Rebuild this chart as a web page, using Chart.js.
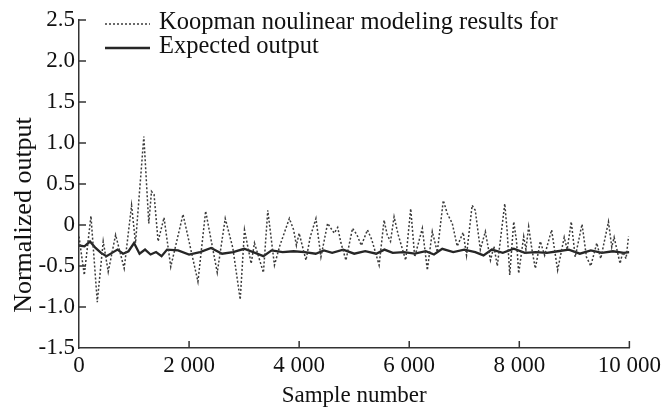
<!DOCTYPE html>
<html lang="en">

<head>
    <meta charset="UTF-8">
    <title>Koopman output</title>
    <script src="https://cdn.jsdelivr.net/npm/chart.js@4.4.0/dist/chart.umd.min.js"></script>
    <style>
        body { margin: 0; background: #fff; }
    </style>
</head>

<body>
    <canvas id="myChart" width="665" height="407"></canvas>

    <script>
        // data
        var koopmanX = [0, 96, 217, 332, 440, 531, 665, 821, 955, 1027, 1178, 1268, 1317, 1364, 1437, 1545, 1667, 1890,
            2161, 2301, 2512, 2657, 2795, 2929, 3007, 3128, 3188, 3351, 3430, 3551, 3650, 3822, 3900, 3950, 4000, 4124,
            4200, 4305, 4396, 4517, 4638, 4700, 4760, 4850, 4970, 5050, 5130, 5241, 5320, 5453, 5543, 5600, 5660, 5725,
            5800, 5936, 6027, 6100, 6238, 6329, 6419, 6510, 6619, 6691, 6782, 6872, 6980, 7041, 7143, 7200, 7292, 7383,
            7476, 7540, 7600, 7736, 7780, 7826, 7899, 7950, 7989, 8080, 8120, 8170, 8230, 8291, 8382, 8460, 8587, 8696,
            8816, 8870, 8944, 9016, 9140, 9220, 9299, 9408, 9480, 9620, 9680, 9723, 9831, 9880, 9940, 9985];
        var koopmanY = [-0.14, -0.61, 0.11, -0.94, -0.20, -0.57, -0.12, -0.53, 0.24, -0.22, 1.08, 0.02, 0.41, 0.37, -0.20, 0.09, -0.51, 0.13,
            -0.69, 0.17, -0.58, 0.08, -0.28, -0.91, -0.06, -0.47, -0.22, -0.58, 0.18, -0.49, -0.25, 0.08, -0.06, -0.25, -0.10, -0.43,
            -0.15, 0.08, -0.39, 0.02, -0.10, -0.03, -0.22, -0.43, -0.04, -0.12, -0.25, -0.06, -0.18, -0.49, 0.06, -0.12, -0.20, 0.10,
            -0.12, -0.43, 0.20, -0.39, -0.04, -0.55, -0.08, -0.33, 0.30, 0.14, 0.02, -0.26, -0.09, -0.37, 0.24, 0.18, -0.30, -0.08,
            -0.43, -0.26, -0.50, 0.26, -0.08, -0.61, 0.04, -0.20, -0.59, -0.14, -0.30, -0.02, -0.30, -0.53, -0.20, -0.37, -0.06, -0.55,
            -0.15, -0.30, 0.04, -0.39, 0.01, -0.39, -0.50, -0.22, -0.41, 0.04, -0.27, -0.15, -0.47, -0.33, -0.41, -0.14];

        var expectedX = [0, 100, 200, 300, 400, 500, 600, 700, 800, 900, 1000, 1100, 1200, 1300, 1400, 1500, 1600, 1800,
            2000, 2200, 2400, 2600, 2800, 3000, 3200, 3350, 3500, 3700, 3900, 4100, 4300, 4450, 4600, 4800, 5000, 5200,
            5400, 5550, 5700, 5900, 6100, 6300, 6450, 6600, 6800, 7000, 7200, 7350, 7500, 7700, 7900, 8100, 8300, 8500,
            8700, 8900, 9100, 9300, 9500, 9700, 9900, 10000];
        var expectedY = [-0.25, -0.26, -0.20, -0.28, -0.34, -0.38, -0.34, -0.30, -0.35, -0.32, -0.22, -0.35, -0.30, -0.36, -0.33, -0.38, -0.30, -0.31,
            -0.36, -0.33, -0.28, -0.35, -0.33, -0.29, -0.34, -0.38, -0.31, -0.33, -0.32, -0.33, -0.35, -0.31, -0.34, -0.30, -0.35, -0.32,
            -0.35, -0.30, -0.34, -0.33, -0.35, -0.32, -0.36, -0.29, -0.33, -0.30, -0.33, -0.37, -0.30, -0.34, -0.29, -0.34, -0.33, -0.34,
            -0.32, -0.30, -0.35, -0.31, -0.34, -0.32, -0.34, -0.33];

        var xTicks = [0, 2000, 4000, 6000, 8000, 10000];
        var yTicks = [-1.5, -1.0, -0.5, 0, 0.5, 1.0, 1.5, 2.0, 2.5];
        var seriesNames = ['Koopman noulinear modeling results for', 'Expected output'];

        var v_font = "'Liberation Serif', 'DejaVu Serif', serif";
        var v_axisColor = '#333';
        var v_textColor = '#111';

        function f_points(p_x, p_y) {
            var v_pts = [];
            for (var i = 0; i < p_x.length; i++) {
                v_pts.push({ x: p_x[i], y: p_y[i] });
            }
            return v_pts;
        }

        // inward tick marks, legend and y title
        var decorPlugin = {
            id: 'decor',
            afterDraw: function (chart) {
                var ctx = chart.ctx;
                var xs = chart.scales.x;
                var ys = chart.scales.y;
                var area = chart.chartArea;
                ctx.save();
                ctx.strokeStyle = v_axisColor;
                ctx.lineWidth = 1.5;
                ctx.beginPath();
                xTicks.forEach(function (v) {
                    if (v === 0) return;
                    var px = xs.getPixelForValue(v);
                    ctx.moveTo(px, area.bottom);
                    ctx.lineTo(px, area.bottom - 7);
                });
                yTicks.forEach(function (v) {
                    if (v === -1.5) return;
                    var py = ys.getPixelForValue(v);
                    ctx.moveTo(area.left, py);
                    ctx.lineTo(area.left + 7, py);
                });
                ctx.stroke();

                // legend
                var sets = chart.data.datasets;
                var rows = [24, 48];
                for (var i = 0; i < sets.length; i++) {
                    ctx.beginPath();
                    ctx.strokeStyle = sets[i].borderColor;
                    ctx.lineWidth = sets[i].borderWidth;
                    ctx.setLineDash(sets[i].borderDash || []);
                    ctx.moveTo(105, rows[i]);
                    ctx.lineTo(150, rows[i]);
                    ctx.stroke();
                    ctx.setLineDash([]);
                    ctx.fillStyle = v_textColor;
                    ctx.font = '24.5px ' + v_font;
                    ctx.textBaseline = 'middle';
                    ctx.textAlign = 'left';
                    ctx.fillText(seriesNames[i], 159, rows[i] - 1);
                }

                // y axis title
                ctx.translate(24, 215);
                ctx.rotate(-Math.PI / 2);
                ctx.font = '26px ' + v_font;
                ctx.textAlign = 'center';
                ctx.textBaseline = 'middle';
                ctx.fillStyle = v_textColor;
                ctx.fillText('Normalized output', 0, 0);
                ctx.restore();
            }
        };

        var ctx = document.getElementById('myChart').getContext('2d');
        var myChart = new Chart(ctx, {
            type: 'line',
            data: {
                datasets: [{
                    label: seriesNames[0],
                    data: f_points(koopmanX, koopmanY),
                    borderColor: '#3a3a3a',
                    borderWidth: 1.5,
                    borderDash: [2, 2],
                    pointRadius: 0,
                    tension: 0,
                    fill: false
                }, {
                    label: seriesNames[1],
                    data: f_points(expectedX, expectedY),
                    borderColor: '#262626',
                    borderWidth: 2.3,
                    pointRadius: 0,
                    tension: 0,
                    fill: false
                }]
            },
            options: {
                responsive: false,
                animation: false,
                devicePixelRatio: 1,
                layout: { padding: { left: 5, right: 34, top: 20, bottom: 0 } },
                plugins: {
                    legend: { display: false },
                    tooltip: { enabled: false }
                },
                scales: {
                    x: {
                        type: 'linear',
                        min: 0,
                        max: 10000,
                        afterBuildTicks: function (s) {
                            s.ticks = xTicks.map(function (v) { return { value: v }; });
                        },
                        afterFit: function (s) { s.height = 59; },
                        ticks: {
                            color: v_textColor,
                            padding: 4,
                            maxRotation: 0,
                            font: { family: v_font, size: 23 },
                            callback: function (v) {
                                return v === 0 ? '0' : (v / 1000) + ' 000';
                            }
                        },
                        grid: { display: false, drawTicks: false },
                        border: { color: v_axisColor, width: 1.5 },
                        title: {
                            display: true,
                            text: 'Sample number',
                            color: v_textColor,
                            padding: 0,
                            font: { family: v_font, size: 23, lineHeight: 1 }
                        }
                    },
                    y: {
                        min: -1.5,
                        max: 2.5,
                        afterBuildTicks: function (s) {
                            s.ticks = yTicks.map(function (v) { return { value: v }; });
                        },
                        afterFit: function (s) { s.width = 74; },
                        ticks: {
                            color: v_textColor,
                            padding: 4,
                            font: { family: v_font, size: 23 },
                            callback: function (v) {
                                return v === 0 ? '0' : v.toFixed(1);
                            }
                        },
                        grid: { display: false, drawTicks: false },
                        border: { color: v_axisColor, width: 1.5 }
                    }
                }
            },
            plugins: [decorPlugin]
        });
    </script>
</body>

</html>
